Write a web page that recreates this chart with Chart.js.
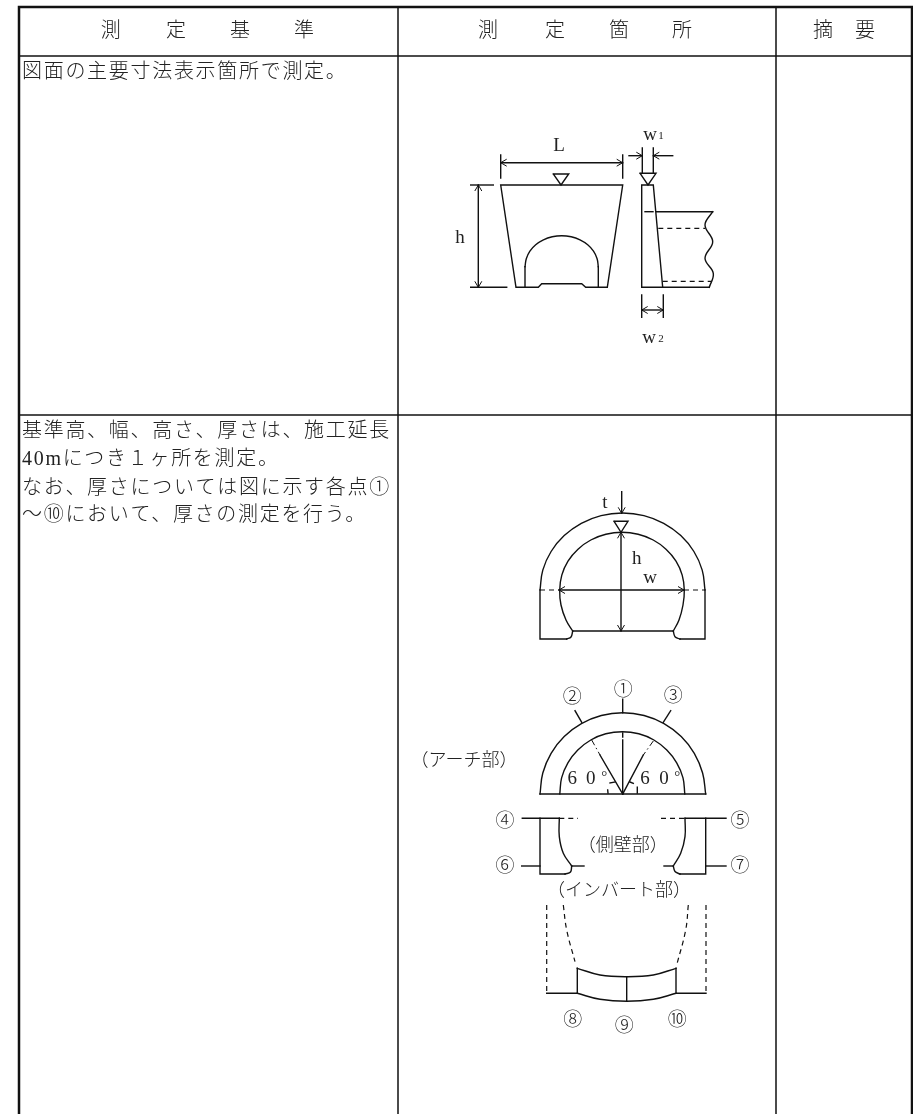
<!DOCTYPE html>
<html>
<head>
<meta charset="utf-8">
<style>
  html, body { margin: 0; background: #fff; }
  canvas { display: block; }
</style>
<script src="https://cdn.jsdelivr.net/npm/chart.js@4"></script>
</head>
<body>
<canvas id="myChart" width="913" height="1114"></canvas>
<script>
// every shape below is a list of [x, y] points
var tableBorder = [
  [[19, 1114], [19, 7], [912, 7], [912, 1114]]
];
var tableRules = [
  [[19, 56], [912, 56]],
  [[19, 415], [912, 415]],
  [[398, 7], [398, 1114]],
  [[776, 7], [776, 1114]]
];

var plainLines = [
  // top drawing, front view
  [[516, 287.3], [500.7, 185], [622.7, 185], [607.3, 287.3], [585.7, 287.3], [581.7, 283.7], [541.7, 283.7], [538.3, 287.3], [516, 287.3]],
  [[525, 287.3], [525, 266.7]],
  [[598.3, 287.3], [598.3, 266.7]],
  [[500.7, 155], [500.7, 178]],
  [[622.7, 155], [622.7, 178]],
  [[500.7, 162.7], [622.7, 162.7]],
  [[553.3, 174], [568.7, 174], [561, 185], [553.3, 174]],
  [[470.7, 185], [493.3, 185]],
  [[470.7, 287.3], [506.7, 287.3]],
  [[478.3, 185], [478.3, 287.3]],
  // top drawing, side view
  [[641.7, 287.3], [641.7, 185], [653.3, 185], [662.7, 287.3]],
  [[641.7, 287.3], [709.3, 287.3]],
  [[645, 211.7], [653, 211.7]],
  [[656.7, 211.7], [712.7, 211.7]],
  [[629, 155.7], [642.3, 155.7]],
  [[653.3, 155.7], [672.7, 155.7]],
  [[642.3, 148], [642.3, 173]],
  [[653.3, 148], [653.3, 173]],
  [[640, 173.3], [656, 173.3], [648, 185], [640, 173.3]],
  [[641.7, 295], [641.7, 317.3]],
  [[663.3, 295], [663.3, 317.3]],
  [[641.7, 310], [663.3, 310]],
  // section with dimensions
  [[540, 590], [540, 639], [566.7, 639]],
  [[705, 590], [705, 639], [680, 639]],
  [[572.7, 631], [673.3, 631]],
  [[559, 590], [684, 590]],
  [[621, 532.3], [621, 631]],
  [[621.7, 491.7], [621.7, 513.3]],
  [[614, 521.3], [628, 521.3], [621, 532.3], [614, 521.3]],
  // arch part
  [[540, 794], [705.7, 794]],
  [[622.7, 699.3], [622.7, 712.7]],
  [[575, 710.7], [581.7, 722.3]],
  [[670.7, 710.7], [663.3, 722.3]],
  [[622.7, 740], [622.7, 794]],
  [[622.7, 733], [622.7, 737]],
  [[600, 755], [622.7, 794]],
  [[643.3, 755], [622.7, 794]],
  [[610, 783], [615, 782]],
  [[608, 793], [607.7, 790]],
  [[630, 782], [633.3, 783.3]],
  [[637.3, 793], [637.3, 787.3]],
  // side wall part
  [[522.3, 818.3], [559.3, 818.3]],
  [[540, 818.3], [540, 874], [565, 874]],
  [[521.7, 866], [540, 866]],
  [[571.7, 866], [584, 866]],
  [[685, 818.3], [726, 818.3]],
  [[705.7, 818.3], [705.7, 874], [680, 874]],
  [[705.7, 866], [726, 866]],
  [[664, 866], [673.3, 866]],
  // invert part
  [[546.7, 993.3], [577.3, 993.3], [577.3, 968.3]],
  [[706, 993.3], [676, 993.3], [676, 968.3]],
  [[626.7, 976.7], [626.7, 1001.3]]
];

var curvedLines = [
  // top drawing
  [[525, 266.7], [526.3, 258.7], [529.9, 251.2], [535.7, 244.8], [543.4, 239.9], [552.2, 236.8], [561.7, 235.7], [571.2, 236.8], [580, 239.9], [587.7, 244.8], [593.5, 251.2], [597.1, 258.7], [598.3, 266.7]],
  [[712.7, 211.7], [705, 225], [712.7, 241.7], [705, 258.3], [713.3, 273.3], [709.3, 287.3]],
  // section with dimensions
  [[540, 590], [542.8, 570.1], [551.1, 551.5], [564.2, 535.6], [581.3, 523.3], [601.1, 515.6], [622.5, 513], [643.9, 515.6], [663.7, 523.3], [680.8, 535.6], [693.9, 551.5], [702.2, 570.1], [705, 590]],
  [[572.7, 631], [566, 620], [561, 605], [559.7, 590], [561.8, 575.1], [568, 561.1], [578, 549.2], [590.8, 540], [605.9, 534.3], [622, 532.3], [638.1, 534.3], [653.2, 540], [666, 549.2], [676, 561.1], [682.2, 575.1], [684.3, 590], [683, 605], [679, 620], [673.3, 631]],
  [[566.7, 639], [571, 637], [572.7, 631]],
  [[673.3, 631], [675, 636.7], [680, 639]],
  // arch part
  [[540, 794], [542.8, 773], [551.1, 753.3], [564.2, 736.5], [581.4, 723.6], [601.3, 715.5], [622.7, 712.7], [644.1, 715.5], [664, 723.6], [681.2, 736.5], [694.3, 753.3], [702.6, 773], [705.7, 794]],
  [[559.8, 794], [561.6, 777.9], [567.9, 762.8], [577.8, 750], [590.8, 740], [605.8, 733.8], [622.3, 731.7], [638.8, 733.8], [653.9, 740], [666.8, 750], [676.7, 762.8], [683, 777.9], [684.8, 794]],
  // side wall part
  [[559.3, 818.3], [559.3, 836.7], [563.3, 853.3], [571.7, 866]],
  [[685, 818.3], [685, 836.7], [680.7, 853.3], [673.3, 866]],
  [[565, 874], [570.5, 872], [571.7, 866]],
  [[673.3, 866], [675, 871.5], [680, 874]],
  // invert part
  [[577.3, 968.3], [600, 975], [626.7, 976.7], [653.3, 975], [676, 968.3]],
  [[577.3, 993.3], [600, 999.3], [626.7, 1001.3], [653.3, 999.3], [676, 993.3]]
];

var dashedLines = [
  [[658.3, 228.3], [705, 228.3]],
  [[662.7, 281.3], [711.7, 281.3]],
  [[540, 590], [559, 590]],
  [[684, 590], [705, 590]],
  [[559.3, 818.3], [578, 818.3]],
  [[661, 818.3], [685, 818.3]],
  [[546.7, 905], [546.7, 993.3]],
  [[706, 905], [706, 993.3]]
];
var dashedCurves = [
  [[563.3, 905], [566.7, 930], [575, 961.7]],
  [[688.3, 905], [685.7, 930], [676.7, 965]]
];
var chainLines = [
  [[591.7, 740], [600, 755]],
  [[653.3, 741], [643.3, 755]]
];

// open arrow heads: tip x, tip y, pointing direction
var arrowTips = [
  [500.7, 162.7, "l"], [622.7, 162.7, "r"],
  [478.3, 185, "u"], [478.3, 287.3, "d"],
  [642.3, 155.7, "r"], [653.3, 155.7, "l"],
  [641.7, 310, "l"], [663.3, 310, "r"],
  [559, 590, "l"], [684, 590, "r"],
  [621, 532.3, "u"], [621, 631, "d"],
  [621.7, 513.3, "d"]
];

var headerTexts = [
  ["測", 110.7, 32], ["定", 176, 32], ["基", 240, 32], ["準", 304, 32],
  ["測", 488, 32], ["定", 555, 32], ["箇", 619, 32], ["所", 682, 32],
  ["摘", 823, 32], ["要", 865, 32]
];
var cellTexts = [
  ["図面の主要寸法表示箇所で測定。", 22, 73],
  ["基準高、幅、高さ、厚さは、施工延長", 22, 432],
  ["40mにつき１ヶ所を測定。", 22, 460],
  ["なお、厚さについては図に示す各点①", 22, 488.5],
  ["～⑩において、厚さの測定を行う。", 22, 516]
];
var letterTexts = [
  ["L", 559, 146], ["h", 460, 238], ["t", 605, 503], ["h", 636.7, 559], ["w", 650, 578],
  ["6", 572.3, 779], ["0", 590.7, 779], ["6", 645, 779], ["0", 664, 779],
  ["w", 650, 135], ["w", 649, 338]
];
var circledTexts = [
  ["①", 623.3, 690.7], ["②", 572.3, 697.7], ["③", 673.3, 697],
  ["④", 505, 821.7], ["⑤", 740, 821.7], ["⑥", 505, 867.3], ["⑦", 740, 867.3],
  ["⑧", 572.7, 1021], ["⑨", 624.3, 1027], ["⑩", 677.3, 1021]
];
var partTexts = [
  ["（アーチ部）", 464, 761], ["（側壁部）", 622.7, 846.7], ["（インバート部）", 619, 891.7]
];
var smallTexts = [
  ["1", 661, 136], ["2", 661, 339]
];
var degreeTexts = [
  ["°", 604.3, 777], ["°", 677.3, 777]
];

var BLACK = "#111";
var datasets = [];

function addLines(lines, width, extra) {
  lines.forEach(function (line) {
    var ds = {
      data: line.map(function (p) { return { x: p[0], y: p[1] }; }),
      showLine: true,
      pointRadius: 0,
      borderColor: BLACK,
      borderWidth: width,
      borderCapStyle: "square",
      borderJoinStyle: "miter",
      fill: false
    };
    Object.assign(ds, extra || {});
    datasets.push(ds);
  });
}

var arrowBarbs = arrowTips.map(function (a) {
  var x = a[0], y = a[1], l = 6, s = 3.5;
  if (a[2] == "l") return [[x + l, y - s], [x, y], [x + l, y + s]];
  if (a[2] == "r") return [[x - l, y - s], [x, y], [x - l, y + s]];
  if (a[2] == "u") return [[x - s, y + l], [x, y], [x + s, y + l]];
  return [[x - s, y - l], [x, y], [x + s, y - l]];
});

addLines(tableBorder, 2.5);
addLines(tableRules, 1.5);
addLines(plainLines, 1.4);
addLines(arrowBarbs, 1, { borderCapStyle: "butt" });
addLines(curvedLines, 1.4, { tension: 0.4 });
addLines(dashedLines, 1.2, { borderDash: [5, 4], borderCapStyle: "butt" });
addLines(dashedCurves, 1.2, { borderDash: [5, 4], borderCapStyle: "butt", tension: 0.4 });
addLines(chainLines, 1, { borderDash: [6, 3, 1.5, 3], borderCapStyle: "butt" });

var textPlugin = {
  id: "tableTexts",
  afterDatasetsDraw: function (chart) {
    var ctx = chart.ctx;
    var sx = chart.scales.x, sy = chart.scales.y;
    function put(list, font, align, spacing) {
      ctx.save();
      ctx.font = font;
      ctx.fillStyle = "#222";
      ctx.textAlign = align;
      ctx.textBaseline = "middle";
      ctx.letterSpacing = spacing;
      list.forEach(function (t) {
        ctx.fillText(t[0], sx.getPixelForValue(t[1]), sy.getPixelForValue(t[2]));
      });
      ctx.restore();
    }
    var stack = '"Liberation Serif", "Noto Sans CJK JP", serif';
    put(headerTexts, '300 20px ' + stack, "center", "0px");
    put(cellTexts, '300 20px ' + stack, "left", "1.7px");
    put(letterTexts, '300 19px ' + stack, "center", "0px");
    put(circledTexts, '300 19px ' + stack, "center", "0px");
    put(partTexts, '300 18px ' + stack, "center", "0px");
    put(smallTexts, '300 11px ' + stack, "center", "0px");
    put(degreeTexts, '300 15px ' + stack, "center", "0px");
  }
};

var myChart = new Chart(document.getElementById("myChart").getContext("2d"), {
  type: "scatter",
  data: { datasets: datasets },
  options: {
    responsive: false,
    animation: false,
    layout: { padding: 0 },
    plugins: { legend: { display: false }, tooltip: { enabled: false } },
    scales: {
      x: { type: "linear", display: false, min: 0, max: 913 },
      y: { type: "linear", display: false, min: 0, max: 1114, reverse: true }
    }
  },
  plugins: [textPlugin]
});
</script>
</body>
</html>
